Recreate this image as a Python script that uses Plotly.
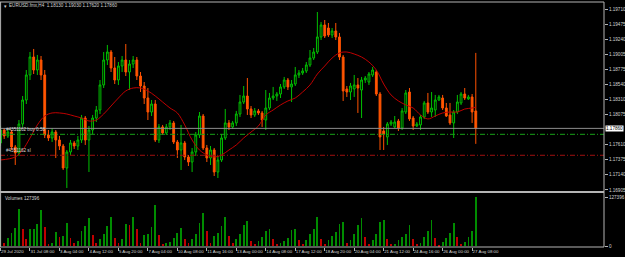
import plotly.graph_objects as go

# ---------------- data (EURUSD H4) ----------------
bars = list(range(130))

opens = [1.17634, 1.17835, 1.17742, 1.17804, 1.17572, 1.17479, 1.17928, 1.18300, 1.18688, 1.18967,
         1.18765, 1.18920, 1.18688, 1.17758, 1.17711, 1.17804, 1.17680, 1.17587, 1.17246, 1.17494,
         1.17634, 1.17587, 1.17680, 1.18021, 1.17680, 1.17835, 1.18021, 1.18145, 1.18533, 1.18920,
         1.19044, 1.18796, 1.18610, 1.18827, 1.18920, 1.18734, 1.18858, 1.18920, 1.18672, 1.18517,
         1.18331, 1.18114, 1.18238, 1.17680, 1.17882, 1.17789, 1.17882, 1.17944, 1.17649, 1.17525,
         1.17634, 1.17417, 1.17339, 1.17494, 1.17758, 1.18052, 1.17556, 1.17401, 1.17525, 1.17184,
         1.17370, 1.17711, 1.17944, 1.17882, 1.17944, 1.18083, 1.18269, 1.18362, 1.18161, 1.18068,
         1.18130, 1.18099, 1.17990, 1.18176, 1.18331, 1.18362, 1.18393, 1.18502, 1.18610, 1.18502,
         1.18548, 1.18688, 1.18719, 1.18750, 1.18843, 1.18951, 1.19044, 1.19277, 1.19463, 1.19416,
         1.19308, 1.19370, 1.19277, 1.18967, 1.18471, 1.18424, 1.18471, 1.18533, 1.18455, 1.18610,
         1.18579, 1.18688, 1.18734, 1.18393, 1.17820, 1.17727, 1.17928, 1.17882, 1.17975, 1.17866,
         1.18114, 1.18424, 1.18021, 1.17897, 1.17913, 1.18037, 1.18254, 1.18114, 1.18145, 1.18300,
         1.18331, 1.18176, 1.18068, 1.17944, 1.18114, 1.18254, 1.18393, 1.18316, 1.18347, 1.18130]
highs = [1.17897, 1.17866, 1.17851, 1.17835, 1.17603, 1.17990, 1.18362, 1.18765, 1.19044, 1.19091,
         1.18998, 1.18982, 1.18765, 1.17835, 1.17866, 1.17835, 1.17742, 1.17618, 1.17525, 1.17680,
         1.17665, 1.17742, 1.18068, 1.18052, 1.17897, 1.18068, 1.18207, 1.18610, 1.19044, 1.19153,
         1.19075, 1.18967, 1.18889, 1.18982, 1.19168, 1.18920, 1.18982, 1.18967, 1.18734, 1.18579,
         1.18486, 1.18300, 1.18300, 1.17928, 1.17913, 1.17928, 1.17990, 1.17975, 1.17680, 1.17913,
         1.17665, 1.17448, 1.17556, 1.17804, 1.18114, 1.18083, 1.17603, 1.17587, 1.17556, 1.17432,
         1.17773, 1.18161, 1.17990, 1.17975, 1.18130, 1.18378, 1.18517, 1.18641, 1.18207, 1.18176,
         1.18161, 1.18130, 1.18455, 1.18409, 1.18502, 1.18424, 1.18548, 1.18657, 1.18641, 1.18610,
         1.18812, 1.18765, 1.18796, 1.18889, 1.19075, 1.19106, 1.19664, 1.19509, 1.19540, 1.19494,
         1.19416, 1.19494, 1.19339, 1.18998, 1.18517, 1.18564, 1.18688, 1.18641, 1.18657, 1.18672,
         1.18734, 1.18812, 1.18765, 1.18424, 1.17882, 1.17959, 1.17990, 1.18052, 1.18006, 1.18176,
         1.18455, 1.18486, 1.18052, 1.17959, 1.18068, 1.18285, 1.18409, 1.18424, 1.18378, 1.18378,
         1.18378, 1.18254, 1.18254, 1.18145, 1.18378, 1.18424, 1.18486, 1.18378, 1.18393, 1.19030]
lows = [1.17587, 1.17696, 1.17711, 1.17525, 1.17293, 1.17432, 1.17882, 1.18238, 1.18610, 1.18703,
        1.18688, 1.18610, 1.17711, 1.17665, 1.17649, 1.17401, 1.17525, 1.17215, 1.16936, 1.17448,
        1.17541, 1.17525, 1.17634, 1.17603, 1.17184, 1.17773, 1.17959, 1.18083, 1.18486, 1.18843,
        1.18734, 1.18548, 1.18533, 1.18734, 1.18672, 1.18455, 1.18796, 1.18610, 1.18424, 1.18238,
        1.17990, 1.18052, 1.17649, 1.17634, 1.17758, 1.17758, 1.17835, 1.17618, 1.17401, 1.17215,
        1.17370, 1.17277, 1.17184, 1.17432, 1.17711, 1.17525, 1.17339, 1.17293, 1.17122, 1.17091,
        1.17339, 1.17680, 1.17835, 1.17851, 1.17897, 1.18037, 1.18238, 1.18068, 1.18021, 1.18037,
        1.18068, 1.17882, 1.17835, 1.18145, 1.18300, 1.18285, 1.18331, 1.18471, 1.18455, 1.18269,
        1.18517, 1.18641, 1.18688, 1.18719, 1.18812, 1.18920, 1.19013, 1.19230, 1.19261, 1.19277,
        1.19261, 1.19230, 1.18920, 1.18285, 1.18347, 1.18300, 1.18347, 1.18099, 1.18021, 1.18564,
        1.18533, 1.18657, 1.18362, 1.17525, 1.17525, 1.17603, 1.17897, 1.17866, 1.17820, 1.17835,
        1.18083, 1.17975, 1.17835, 1.17882, 1.17835, 1.18006, 1.18083, 1.18037, 1.18037, 1.18285,
        1.18145, 1.18037, 1.17913, 1.17711, 1.18083, 1.18223, 1.18300, 1.18300, 1.17944, 1.17620]
closes = [1.17835, 1.17742, 1.17804, 1.17572, 1.17479, 1.17928, 1.18300, 1.18688, 1.18967, 1.18765,
          1.18920, 1.18688, 1.17758, 1.17711, 1.17804, 1.17680, 1.17587, 1.17246, 1.17494, 1.17634,
          1.17587, 1.17680, 1.18021, 1.17680, 1.17835, 1.18021, 1.18145, 1.18533, 1.18920, 1.19044,
          1.18796, 1.18610, 1.18827, 1.18920, 1.18734, 1.18858, 1.18920, 1.18672, 1.18517, 1.18331,
          1.18114, 1.18238, 1.17680, 1.17882, 1.17789, 1.17882, 1.17944, 1.17649, 1.17525, 1.17634,
          1.17417, 1.17339, 1.17494, 1.17758, 1.18052, 1.17556, 1.17401, 1.17525, 1.17184, 1.17370,
          1.17711, 1.17944, 1.17882, 1.17944, 1.18083, 1.18269, 1.18362, 1.18161, 1.18068, 1.18130,
          1.18099, 1.17990, 1.18176, 1.18331, 1.18362, 1.18393, 1.18502, 1.18610, 1.18502, 1.18548,
          1.18688, 1.18719, 1.18750, 1.18843, 1.18951, 1.19044, 1.19277, 1.19463, 1.19292, 1.19308,
          1.19370, 1.19277, 1.18967, 1.18440, 1.18424, 1.18517, 1.18533, 1.18486, 1.18610, 1.18641,
          1.18703, 1.18765, 1.18393, 1.17727, 1.17773, 1.17928, 1.17959, 1.17959, 1.17866, 1.18130,
          1.18409, 1.18006, 1.17897, 1.17928, 1.18037, 1.18254, 1.18114, 1.18176, 1.18300, 1.18347,
          1.18176, 1.18052, 1.17944, 1.18114, 1.18269, 1.18393, 1.18331, 1.18347, 1.18114, 1.17860]

volumes = [66920, 6950, 20590, 33460, 46330, 95240, 43760, 18020, 43760, 45040,
           56630, 92660, 48910, 5150, 7720, 36040, 23170, 25740, 59200, 20590,
           7720, 12870, 38610, 51480, 72070, 28310, 7720, 18020, 30890, 51480,
           74650, 20590, 7720, 18020, 56630, 54050, 74650, 43760, 7720, 28310,
           30890, 48910, 105530, 28310, 5150, 7720, 10300, 20590, 33460, 46330,
           18020, 7720, 18020, 30890, 59200, 84940, 38610, 7720, 25740, 33460,
           51480, 74650, 25740, 7720, 18020, 30890, 54050, 64350, 12870, 5150,
           12870, 23170, 38610, 43760, 18020, 5150, 7720, 12870, 20590, 41180,
           43760, 15440, 5150, 15440, 30890, 43760, 74650, 18020, 5150, 15440,
           25740, 36040, 56630, 61780, 7720, 15440, 30890, 54050, 72070, 23170,
           5150, 15440, 30890, 61780, 66920, 18020, 5150, 6400, 15440, 23170,
           30890, 54050, 18020, 5150, 7720, 23170, 38610, 66920, 20590, 2574,
           10300, 20590, 33460, 59200, 23170, 5150, 10300, 23170, 38610, 127396]

ma_bars = [0, 4, 6, 8, 10, 12, 14, 16, 18, 20, 22, 24, 26, 28, 30, 32, 34, 36, 38, 40,
           42, 44, 46, 48, 50, 52, 54, 56, 58, 60, 62, 64, 66, 68, 70, 72, 74, 76, 78, 80,
           82, 84, 86, 88, 90, 92, 94, 96, 98, 100, 102, 104, 106, 108, 110, 112, 114, 116,
           118, 120, 122, 124, 126, 128, 129]
ma_values = [1.17370, 1.17417, 1.17525, 1.17711, 1.17913, 1.18052, 1.18099, 1.18099, 1.18083, 1.18052,
             1.18021, 1.17975, 1.17990, 1.18083, 1.18207, 1.18331, 1.18440, 1.18486, 1.18486, 1.18440,
             1.18362, 1.18269, 1.18176, 1.18099, 1.17913, 1.17680, 1.17525, 1.17448, 1.17417, 1.17448,
             1.17525, 1.17603, 1.17711, 1.17804, 1.17897, 1.18068, 1.18145, 1.18223, 1.18285, 1.18331,
             1.18424, 1.18533, 1.18703, 1.18827, 1.18951, 1.19029, 1.19044, 1.19013, 1.18966, 1.18889,
             1.18765, 1.18548, 1.18378, 1.18285, 1.18223, 1.18176, 1.18068, 1.18006, 1.18052, 1.18099,
             1.18114, 1.18114, 1.18160, 1.18176, 1.18191]

bid_price = 1.17860
buy_price = 1.17768
sl_price = 1.17443

price_ticks = [1.19710, 1.19475, 1.19240, 1.19005, 1.18775, 1.18540, 1.18310, 1.18075,
               1.17610, 1.17375, 1.17140, 1.16905]
volume_ticks = [0, 127396]

time_tick_bars = [0, 8, 16, 24, 32, 40, 48, 56, 64, 72, 80, 88, 96, 104, 112, 120, 128]
time_tick_labels = ["29 Jul 2020", "31 Jul 08:00", "3 Aug 04:00", "4 Aug 12:00", "5 Aug 20:00",
                    "7 Aug 04:00", "10 Aug 08:00", "11 Aug 16:00", "13 Aug 00:00", "14 Aug 08:00",
                    "17 Aug 12:00", "18 Aug 20:00", "20 Aug 04:00", "21 Aug 12:00", "24 Aug 16:00",
                    "26 Aug 00:00", "27 Aug 08:00"]

title_text = "EURUSD.fmx,H4  1.18130 1.19030 1.17620 1.17860"
volume_title = "Volumes 127396"
buy_label = "#4351162 buy 0.58"
sl_label = "#4351162 sl"

# ---------------- figure ----------------
FONT = "Liberation Sans"
TXT = "#d4d4d4"
FRAME = "#b4b4b4"

vol_colors = ["#008c00"]
for k in range(1, len(volumes)):
    vol_colors.append("#008c00" if volumes[k] >= volumes[k - 1] else "#c00000")

fig = go.Figure()

fig.add_trace(go.Bar(
    x=bars, y=volumes, width=0.22, marker=dict(color=vol_colors, line=dict(width=0)),
    xaxis="x", yaxis="y2", showlegend=False, hoverinfo="skip"))

fig.add_trace(go.Scatter(
    x=ma_bars, y=ma_values, mode="lines", line=dict(color="#c00000", width=1, shape="spline"),
    xaxis="x", yaxis="y", showlegend=False, hoverinfo="skip"))

fig.add_trace(go.Candlestick(
    x=bars, open=opens, high=highs, low=lows, close=closes,
    increasing=dict(line=dict(color="#00c000", width=1), fillcolor="#000000"),
    decreasing=dict(line=dict(color="#ff5200", width=1), fillcolor="#ff5a00"),
    whiskerwidth=0, xaxis="x", yaxis="y", showlegend=False, hoverinfo="skip"))

shapes = [
    dict(type="line", xref="paper", x0=0, x1=1, yref="y", y0=bid_price, y1=bid_price,
         line=dict(color="#8c8c8c", width=1)),
    dict(type="line", xref="paper", x0=0, x1=1, yref="y", y0=buy_price, y1=buy_price,
         line=dict(color="#18a018", width=1, dash="5px,2px,1px,2px")),
    dict(type="line", xref="paper", x0=0, x1=1, yref="y", y0=sl_price, y1=sl_price,
         line=dict(color="#a01010", width=1, dash="5px,2px,1px,2px")),
    # frame
    dict(type="line", xref="paper", yref="paper", x0=0, x1=1, y0=1, y1=1,
         line=dict(color=FRAME, width=1)),
    dict(type="line", xref="paper", yref="paper", x0=1, x1=1, y0=0, y1=1,
         line=dict(color=FRAME, width=1)),
    dict(type="line", xref="paper", yref="paper", x0=0, x1=1, y0=0, y1=0,
         line=dict(color=FRAME, width=1)),
    dict(type="line", xref="paper", yref="paper", x0=0.001, x1=0.001, y0=0, y1=1,
         line=dict(color=FRAME, width=1)),
    dict(type="line", xref="paper", yref="paper", x0=0, x1=1, y0=0.2245, y1=0.2245,
         line=dict(color=FRAME, width=2)),
]

annotations = [
    dict(text=title_text, xref="paper", yref="paper", x=0.012, y=0.984, xanchor="left",
         yanchor="middle", showarrow=False, font=dict(family=FONT, size=4.6, color=TXT)),
    dict(text="▾", xref="paper", yref="paper", x=0.003, y=0.984, xanchor="left",
         yanchor="middle", showarrow=False, font=dict(family=FONT, size=5, color=TXT)),
    dict(text=volume_title, xref="paper", yref="paper", x=0.005, y=0.2, xanchor="left",
         yanchor="middle", showarrow=False, font=dict(family=FONT, size=4.6, color=TXT)),
    dict(text=buy_label, xref="paper", yref="y", x=0.006, y=buy_price, xanchor="left",
         yanchor="bottom", yshift=0, showarrow=False, font=dict(family=FONT, size=4.6, color=TXT)),
    dict(text=sl_label, xref="paper", yref="y", x=0.006, y=sl_price, xanchor="left",
         yanchor="bottom", yshift=0, showarrow=False, font=dict(family=FONT, size=4.6, color=TXT)),
    dict(text=f"{bid_price:.5f}", xref="paper", yref="y", x=1, y=bid_price, xanchor="left",
         yanchor="middle", xshift=1, showarrow=False, bgcolor="#ffffff", borderpad=0,
         font=dict(family=FONT, size=4.6, color="#000000")),
]

fig.update_layout(
    width=625, height=257,
    margin=dict(l=0, r=21, t=2, b=10, autoexpand=False),
    paper_bgcolor="#000000", plot_bgcolor="#000000",
    bargap=0, boxgap=0.3,
    shapes=shapes, annotations=annotations,
    xaxis=dict(anchor="y2", range=[-0.14, 163.8], showgrid=False, zeroline=False,
               showline=False, rangeslider=dict(visible=False), automargin=False,
               tickmode="array", tickvals=time_tick_bars, ticktext=time_tick_labels,
               tickangle=0, ticks="outside", ticklen=3, tickcolor=FRAME,
               ticklabelposition="outside right",
               tickfont=dict(family=FONT, size=4.4, color=TXT)),
    yaxis=dict(domain=[0.2286, 1.0], range=[1.168895, 1.19819], side="right", anchor="x",
               showgrid=False, zeroline=False, showline=False, automargin=False,
               tickmode="array", tickvals=price_ticks, ticktext=[f"{v:.5f}" for v in price_ticks],
               ticks="outside", ticklen=3, tickcolor=FRAME,
               tickfont=dict(family=FONT, size=4.6, color=TXT)),
    yaxis2=dict(domain=[0.0, 0.2184], range=[-1287, 136422], side="right", anchor="x",
                showgrid=False, zeroline=False, showline=False, automargin=False,
                tickmode="array", tickvals=volume_ticks, ticktext=[str(v) for v in volume_ticks],
                ticks="outside", ticklen=3, tickcolor=FRAME,
                tickfont=dict(family=FONT, size=4.6, color=TXT)),
)

fig.write_html("out.html")
